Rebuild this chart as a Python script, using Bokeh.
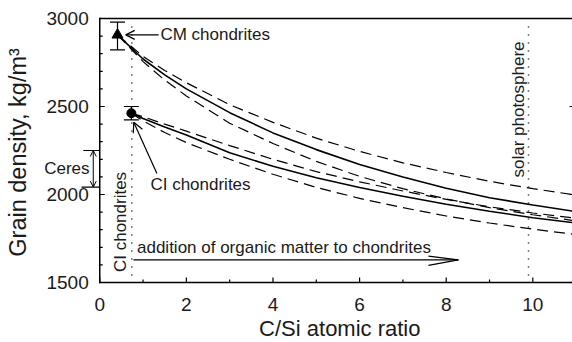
import numpy as np
from bokeh.plotting import figure
from bokeh.models import (Range1d, Arrow, OpenHead, Label, Whisker, TeeHead, ColumnDataSource)
from bokeh.core.properties import value
from bokeh.embed import file_html
from bokeh.resources import INLINE

FONT = "Liberation Sans"

# ---- ticks ----
x_ticks = [0, 2, 4, 6, 8, 10]
x_tick_labels = ["0", "2", "4", "6", "8", "10"]
x_minor = [1, 3, 5, 7, 9]
y_ticks = [1500, 2000, 2500, 3000]
y_tick_labels = ["1500", "2000", "2500", "3000"]
y_minor = list(range(1500, 3001, 100))

# ---- CM chondrite curves ----
cm_x = [0.41, 1, 1.5, 2, 3, 4, 5, 6, 7, 8, 9, 10, 11]
cm_mid = [2907, 2770, 2680, 2600, 2465, 2350, 2255, 2170, 2100, 2035, 1982, 1940, 1903]
cm_up = [2907, 2785, 2705, 2635, 2510, 2410, 2320, 2245, 2180, 2125, 2075, 2033, 1997]
cm_lo = [2907, 2755, 2650, 2560, 2405, 2290, 2188, 2103, 2033, 1975, 1925, 1885, 1850]

# ---- CI chondrite curves ----
ci_x = [0.73, 1, 1.5, 2, 3, 4, 5, 6, 7, 8, 9, 10, 11]
ci_mid = [2462, 2432, 2383, 2338, 2237, 2160, 2095, 2040, 1990, 1945, 1905, 1868, 1838]
ci_up = [2462, 2442, 2400, 2360, 2278, 2200, 2130, 2072, 2020, 1972, 1930, 1895, 1865]
ci_lo = [2462, 2418, 2352, 2295, 2200, 2115, 2040, 1978, 1925, 1878, 1838, 1803, 1772]

# ---- measured points with error bars ----
pt_x = [0.41, 0.73]
pt_y = [2907, 2462]
pt_lo = [2822, 2424]
pt_hi = [2979, 2500]

# ---- reference lines ----
ci_ratio = 0.74
solar_ratio = 9.9
ceres_lo, ceres_hi = 2042, 2250

# ---- plotting area ----
W, H = 572, 342
X0, X1 = 0.0, 10.916          # axis box in data units
Y0, Y1 = 1500, 3000
PX_X = 43.33                  # pixels per x unit
PX_Y = 0.176                  # pixels per y unit
LEFT, TOP, BOTTOM = 99.3, 18, 60
x_range = Range1d(X0 - LEFT / PX_X, X1)
y_range = Range1d(Y0 - BOTTOM / PX_Y, Y1 + TOP / PX_Y)

p = figure(width=W, height=H, output_backend="svg", toolbar_location=None,
           x_range=x_range, y_range=y_range,
           min_border_left=0, min_border_right=0, min_border_top=0, min_border_bottom=0,
           x_axis_location=None, y_axis_location=None)
p.outline_line_color = None
p.grid.visible = False
p.background_fill_color = "white"
p.border_fill_color = "white"

INK = "#1a1a1a"
TICK = dict(line_color="black", line_width=1.2)

# ---- axis box ----
p.segment(x0=[X0, X0, X0], y0=[Y0, Y0, Y1], x1=[X1, X0, X1], y1=[Y0, Y1, Y1],
          line_color="black", line_width=[1.5, 1.5, 1.3], line_cap="square")

# x ticks (pointing up into the plot)
p.segment(x0=x_minor, y0=[Y0] * len(x_minor), x1=x_minor,
          y1=[Y0 + 3 / PX_Y] * len(x_minor), **TICK)
p.segment(x0=x_ticks, y0=[Y0] * len(x_ticks), x1=x_ticks,
          y1=[Y0 + 5 / PX_Y] * len(x_ticks), **TICK)
p.text(x=x_ticks, y=[Y0] * len(x_ticks), text=x_tick_labels, y_offset=21.5,
       text_align="center", text_baseline="middle", text_font=value(FONT),
       text_font_size="19px", text_color=INK)

# y ticks (pointing right into the plot)
p.segment(x0=[X0] * len(y_minor), y0=y_minor, x1=[X0 + 3 / PX_X] * len(y_minor), y1=y_minor, **TICK)
p.segment(x0=[X0] * len(y_ticks), y0=y_ticks, x1=[X0 + 5 / PX_X] * len(y_ticks), y1=y_ticks, **TICK)
p.segment(x0=[X1] * len(y_ticks), y0=y_ticks, x1=[X1 - 3 / PX_X] * len(y_ticks), y1=y_ticks, **TICK)
p.text(x=[X0] * len(y_ticks), y=y_ticks, text=y_tick_labels, x_offset=-11,
       text_align="right", text_baseline="middle", text_font=value(FONT),
       text_font_size="19px", text_color=INK)

# axis titles
p.add_layout(Label(x=5.543, y=Y0 - 46 / PX_Y, text="C/Si atomic ratio",
                   text_align="center", text_baseline="middle", text_font=FONT,
                   text_font_size="22px", text_color=INK))
p.add_layout(Label(x=X0 - 81.5 / PX_X, y=2239, text="Grain density, kg/m³", angle=np.pi / 2,
                   text_align="center", text_baseline="middle", text_font=FONT,
                   text_font_size="23.5px", text_color=INK))

# dotted reference lines
for xv in (ci_ratio, solar_ratio):
    p.segment(x0=[xv], y0=[Y0 + 7 / PX_Y], x1=[xv], y1=[Y1 - 2 / PX_Y],
              line_color="black", line_width=1.5, line_dash="1 7")

# curves
for xs, ys in ((cm_x, cm_up), (cm_x, cm_lo), (ci_x, ci_up), (ci_x, ci_lo)):
    p.line(xs, ys, line_color="black", line_width=1.2, line_dash="11 6")
for xs, ys in ((cm_x, cm_mid), (ci_x, ci_mid)):
    p.line(xs, ys, line_color="black", line_width=1.6)

# error bars & points
src = ColumnDataSource(dict(x=pt_x, lo=pt_lo, hi=pt_hi))
p.add_layout(Whisker(source=src, base="x", lower="lo", upper="hi", dimension="height",
                     line_width=1.2,
                     lower_head=TeeHead(size=15, line_width=1.2),
                     upper_head=TeeHead(size=15, line_width=1.2)))
p.scatter([pt_x[0]], [pt_y[0]], marker="triangle", size=11, color="black")
p.scatter([pt_x[1]], [pt_y[1]], marker="circle", size=9, color="black")

TXT = dict(text_font=FONT, text_font_size="17px", text_color=INK)

# CM label + arrow
p.add_layout(Label(x=1.40, y=2907, text="CM chondrites", text_baseline="middle", **TXT))
p.add_layout(Arrow(end=OpenHead(size=9, line_width=1.2), x_start=1.36, y_start=2907,
                   x_end=0.60, y_end=2907, line_width=1.2))

# CI label + arrow
p.add_layout(Label(x=1.17, y=2055, text="CI chondrites", text_baseline="middle", **TXT))
p.add_layout(Arrow(end=OpenHead(size=10, line_width=1.2), x_start=1.32, y_start=2119,
                   x_end=0.785, y_end=2411, line_width=1.2))

# vertical labels
p.add_layout(Label(x=0.49, y=1844, text="CI chondrites", angle=np.pi / 2,
                   text_align="center", text_baseline="middle", **TXT))
p.add_layout(Label(x=9.66, y=2483, text="solar photosphere", angle=np.pi / 2,
                   text_align="center", text_baseline="middle", **TXT))

# organic matter arrow
p.add_layout(Label(x=0.86, y=1699, text="addition of organic matter to chondrites",
                   text_baseline="middle", **TXT))
p.add_layout(Arrow(end=None, x_start=0.78, y_start=1629, x_end=8.28, y_end=1629, line_width=1.2))
p.add_layout(Arrow(end=None, x_start=7.59, y_start=1650, x_end=8.28, y_end=1629, line_width=1.2))
p.add_layout(Arrow(end=None, x_start=7.59, y_start=1597, x_end=8.28, y_end=1629, line_width=1.2))

# Ceres bracket
p.add_layout(Label(x=-0.76, y=2148, text="Ceres", text_align="center", text_baseline="middle", **TXT))
p.add_layout(Arrow(start=OpenHead(size=6, line_width=1), end=OpenHead(size=6, line_width=1),
                   x_start=-0.15, y_start=ceres_hi, x_end=-0.15, y_end=ceres_lo, line_width=1))
p.add_layout(Arrow(end=None, x_start=-0.38, y_start=ceres_hi, x_end=0, y_end=ceres_hi, line_width=1.2))
p.add_layout(Arrow(end=None, x_start=-0.42, y_start=ceres_lo, x_end=0, y_end=ceres_lo, line_width=1.2))

open("out.html", "w").write(file_html(p, INLINE))
